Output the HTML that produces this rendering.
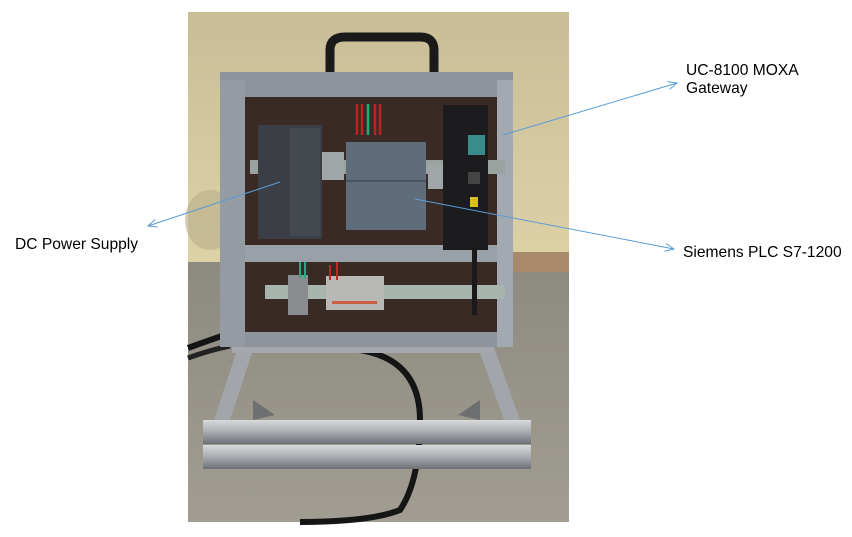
<!DOCTYPE html>
<html><head><meta charset="utf-8"><style>
html,body{margin:0;padding:0;background:#fff;width:852px;height:537px;overflow:hidden}
svg{display:block}
text{font-family:"Liberation Sans",Arial,sans-serif;font-size:15.6px;fill:#000}
</style></head><body>
<svg width="852" height="537" viewBox="0 0 852 537">
<defs>
<linearGradient id="wall" x1="0" y1="0" x2="0" y2="1"><stop offset="0" stop-color="#c9bd98"/><stop offset="0.5" stop-color="#ddd2a6"/><stop offset="1" stop-color="#cfc49c"/></linearGradient>
<linearGradient id="floor" x1="0" y1="0" x2="0" y2="1"><stop offset="0" stop-color="#8d8a80"/><stop offset="1" stop-color="#a19d92"/></linearGradient>
<linearGradient id="alu" x1="0" y1="0" x2="0" y2="1"><stop offset="0" stop-color="#d8dadc"/><stop offset="0.5" stop-color="#a8acb0"/><stop offset="1" stop-color="#6d7176"/></linearGradient>
<marker id="ar" markerWidth="10" markerHeight="10" refX="9" refY="5" orient="auto" markerUnits="userSpaceOnUse"><path d="M0,1 L9,5 L0,9" fill="none" stroke="#5b9bd5" stroke-width="1"/></marker>
</defs>
<rect x="188" y="12" width="381" height="510" fill="url(#wall)"/>
<rect x="188" y="262" width="381" height="260" fill="url(#floor)"/>
<ellipse cx="210" cy="220" rx="25" ry="30" fill="#b8ae8a" opacity="0.6"/>
<rect x="513" y="252" width="56" height="20" fill="#a88a6a"/>
<path d="M188,348 Q215,338 240,330 M360,350 Q420,360 420,420 Q420,480 400,510 Q370,522 300,522" fill="none" stroke="#151515" stroke-width="6"/>
<path d="M188,358 Q210,350 230,346" fill="none" stroke="#222" stroke-width="5"/>
<path d="M330,80 L330,50 Q330,37 345,37 L420,37 Q434,37 434,50 L434,80" fill="none" stroke="#1a1a1a" stroke-width="9"/>
<rect x="220" y="72" width="293" height="275" fill="#8e949b"/>
<rect x="245" y="97" width="263" height="148" fill="#3a2a26"/>
<rect x="245" y="262" width="258" height="70" fill="#3a2a26"/>
<rect x="245" y="245" width="263" height="17" fill="#9aa0a7"/>
<rect x="497" y="80" width="16" height="267" fill="#a3a9b0"/>
<rect x="220" y="80" width="25" height="267" fill="#959ba2"/>
<rect x="265" y="285" width="240" height="14" fill="#a8b4ae"/>
<rect x="288" y="275" width="20" height="40" fill="#8a8d90"/>
<rect x="326" y="276" width="58" height="34" fill="#b8b8b4"/>
<rect x="332" y="301" width="45" height="3" fill="#c86040"/>
<path d="M330,265 L330,280 M337,262 L337,280" stroke="#c22" stroke-width="2"/>
<path d="M300,262 L300,278 M305,262 L305,278" stroke="#2a8" stroke-width="2"/>
<rect x="250" y="160" width="255" height="14" fill="#9aa3a0"/>
<rect x="258" y="125" width="64" height="114" fill="#3b3f45"/>
<rect x="290" y="128" width="30" height="108" fill="#444950"/>
<rect x="346" y="142" width="80" height="88" fill="#5f6d7a"/>
<rect x="346" y="180" width="80" height="2" fill="#4a5560"/>
<path d="M357,104 L357,135 M362,104 L362,135 M375,104 L375,135 M380,104 L380,135" stroke="#b22" stroke-width="2.5"/>
<path d="M368,104 L368,135" stroke="#2a7" stroke-width="2.5"/>
<rect x="322" y="152" width="22" height="28" fill="#a0a5a8"/>
<rect x="428" y="165" width="16" height="24" fill="#a0a5a8"/>
<rect x="443" y="105" width="45" height="145" fill="#1c1c1e"/>
<rect x="468" y="135" width="17" height="20" fill="#3a8c8c"/>
<rect x="468" y="172" width="12" height="12" fill="#444"/>
<rect x="470" y="197" width="8" height="10" fill="#d8c020"/>
<rect x="472" y="245" width="5" height="70" fill="#1a1a1a"/>
<path d="M238,347 L254,347 L230,420 L214,420 Z" fill="#a2a6aa"/>
<path d="M478,347 L494,347 L520,420 L504,420 Z" fill="#a2a6aa"/>
<rect x="232" y="347" width="260" height="6" fill="#a5a9ad"/>
<rect x="203" y="420" width="328" height="24" fill="url(#alu)"/>
<rect x="203" y="445" width="328" height="24" fill="url(#alu)"/>
<path d="M253,400 L275,415 L253,420 Z M480,400 L458,415 L480,420Z" fill="#6d6f71"/>
<line x1="280" y1="182" x2="148" y2="226" stroke="#5b9bd5" stroke-width="1" marker-end="url(#ar)"/>
<line x1="503" y1="135" x2="677" y2="83" stroke="#5b9bd5" stroke-width="1" marker-end="url(#ar)"/>
<line x1="415" y1="199" x2="674" y2="249" stroke="#5b9bd5" stroke-width="1" marker-end="url(#ar)"/>
<text x="15" y="249">DC Power Supply</text>
<text x="686" y="75">UC-8100 MOXA</text>
<text x="686" y="93">Gateway</text>
<text x="683" y="257">Siemens PLC S7-1200</text>
</svg>
</body></html>
